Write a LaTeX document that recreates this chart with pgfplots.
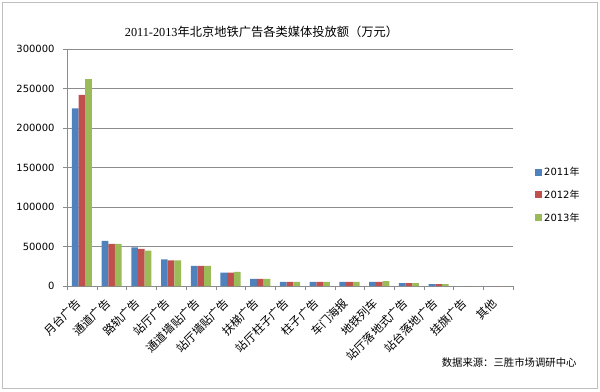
\documentclass[border=0pt]{standalone}
\usepackage{pgfplots}
\pgfplotsset{compat=1.18}
\usepackage{fontspec}
\setmainfont{DejaVu Sans}
\newfontfamily\cjk{Noto Sans CJK SC}
\newfontfamily\serifdigits{Liberation Serif}
\newfontfamily\dejavu{DejaVu Sans}
\definecolor{c11}{HTML}{4F81BD}
\definecolor{c12}{HTML}{C0504D}
\definecolor{c13}{HTML}{9BBB59}
\definecolor{gridc}{HTML}{8C8C8C}
\definecolor{borderc}{HTML}{BFBFBF}
\begin{document}
\begin{tikzpicture}[x=1bp,y=1bp]
\useasboundingbox (0,0) rectangle (600,391);
\draw[borderc, line width=1bp] (2.5,2.5) rectangle (597.5,388.5);
\node[font=\fontsize{12.3}{12.3}\selectfont] at (261.5,359) {{\serifdigits 2011-2013}{\cjk 年北京地铁广告各类媒体投放额（万元）}};
\node[anchor=east, font=\cjk\fontsize{10.4}{10.4}\selectfont] at (580,28) {数据来源：三胜市场调研中心};
\begin{axis}[
  at={(67bp,105bp)}, anchor=south west,
  scale only axis, width=446bp, height=237bp,
  xmin=-0.5, xmax=14.5, ymin=0, ymax=300000,
  ybar=0pt, bar width=6.7bp,
  axis line style={gridc},
  axis x line*=bottom, axis y line*=left,
  ytick={0,50000,100000,150000,200000,250000,300000},
  yticklabels={0,50000,100000,150000,200000,250000,300000},
  scaled y ticks=false,
  ymajorgrids, major grid style={gridc, line width=0.8bp},
  tick style={gridc},
  major tick length=4bp,
  tick align=outside,
  yticklabel style={font=\dejavu\fontsize{10}{10}\selectfont, xshift=-5bp},
  xtick={-0.5,0.5,...,14.5},
  xticklabels={},
  extra x ticks={0,1,2,3,4,5,6,7,8,9,10,11,12,13,14},
  extra x tick labels={月台广告,通道广告,路轨广告,站厅广告,通道墙贴广告,站厅墙贴广告,扶梯广告,站厅柱子广告,柱子广告,车门海报,地铁列车,站厅落地式广告,站台落地广告,挂旗广告,其他},
  extra x tick style={major tick length=0pt, grid=none,
    xticklabel style={xshift=-1bp, yshift=-13bp, rotate=45, anchor=east, font=\cjk\fontsize{11.5}{11.5}\selectfont}},
  legend style={at={(1,0.384)}, anchor=west, xshift=22bp, draw=none, fill=none,
    font=\fontsize{10}{10}\selectfont, row sep=9bp, inner sep=0pt,
    legend cell align=left},
  legend image code/.code={\fill[#1] (0bp,-3.5bp) rectangle (7bp,3.5bp);},
]
\addplot[fill=c11, draw=none] coordinates {(0,225000) (1,57000) (2,49000) (3,33800) (4,25500) (5,16800) (6,8900) (7,5100) (8,5100) (9,5100) (10,5100) (11,3800) (12,2500) (13,0) (14,0)};
\addplot[fill=c12, draw=none] coordinates {(0,242000) (1,53200) (2,47000) (3,32500) (4,25500) (5,16800) (6,8900) (7,5100) (8,5100) (9,5100) (10,5100) (11,3800) (12,2500) (13,0) (14,0)};
\addplot[fill=c13, draw=none] coordinates {(0,262000) (1,53200) (2,44800) (3,32500) (4,25500) (5,18000) (6,8900) (7,5100) (8,5100) (9,5100) (10,6300) (11,3600) (12,2300) (13,0) (14,0)};
\legend{{2011\cjk 年},{2012\cjk 年},{2013\cjk 年}}
\end{axis}
\end{tikzpicture}
\end{document}
